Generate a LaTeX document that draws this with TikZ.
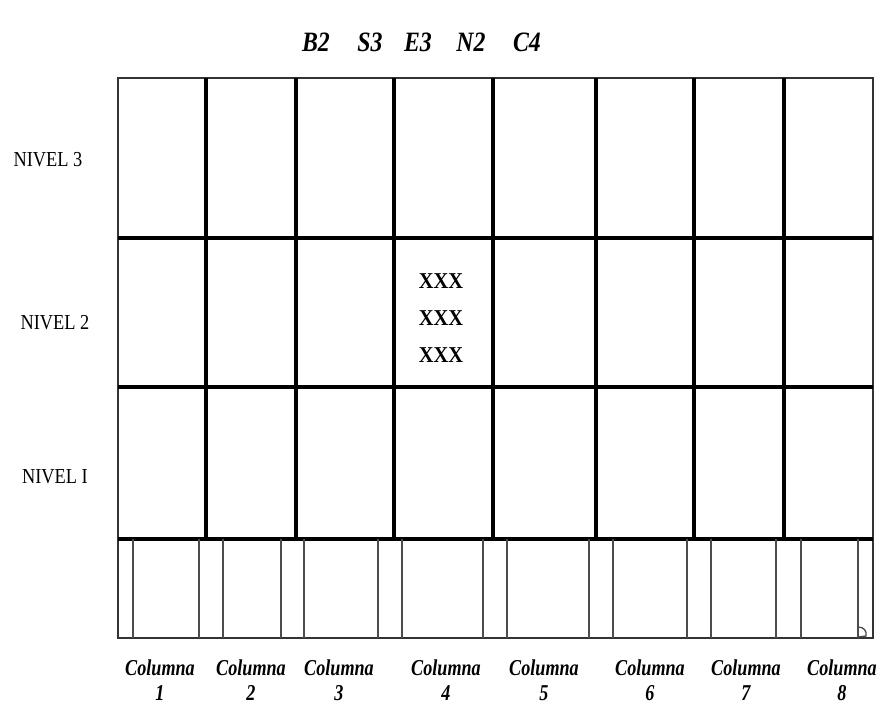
\documentclass[tikz,border=0pt]{standalone}
\usepackage{fontspec}
\setmainfont{Liberation Serif}
\begin{document}
\begin{tikzpicture}[x=0.75pt, y=-0.75pt,
  frameline/.style={line width=1.1pt, black!80},
  thickgrid/.style={line width=2.6pt, black},
  stripline/.style={line width=1pt, black!70},
  codelabel/.style={font=\fontsize{21}{24}\selectfont\bfseries\itshape, xscale=0.85},
  levellabel/.style={font=\fontsize{16}{19}\selectfont, xscale=0.86},
  collabel/.style={font=\fontsize{17}{19}\selectfont\bfseries\itshape, align=center, xscale=0.8, inner sep=0pt},
  cellmark/.style={font=\fontsize{17}{28}\selectfont\bfseries, align=center, inner sep=0pt, xscale=0.9}]
  \useasboundingbox (0,0) rectangle (883,706);

  % Code header
  \foreach \name/\x in {B2/316, S3/370, E3/418, N2/471, C4/527}
    \node [codelabel] (code\name) at (\x, 42) {\name};

  % Outer frame
  \draw [frameline] (118, 78) rectangle (873, 638);

  % Levels and columns
  \foreach \y in {238, 387, 539}
    \draw [thickgrid] (118, \y) -- (873, \y);
  \foreach \x in {206, 296, 394, 493, 596, 694, 784}
    \draw [thickgrid] (\x, 78) -- (\x, 539);

  % Base strip
  \foreach \x in {133, 199, 223, 281, 304, 378, 402, 483, 507, 589, 613, 687, 711, 776, 801, 858}
    \draw [stripline] (\x, 539) -- (\x, 638);
  \draw [stripline] (858, 627) .. controls (864, 627) and (867, 631) .. (866, 636) -- (858, 637);

  % Level labels
  \node [levellabel] (nivel3) at (48, 160) {NIVEL 3};
  \node [levellabel] (nivel2) at (55, 323) {NIVEL 2};
  \node [levellabel] (nivel1) at (55, 477) {NIVEL I};

  % Occupied cell
  \node [cellmark] (mark) at (441, 318) {XXX\\XXX\\XXX};

  % Column labels
  \foreach \i/\x in {1/160, 2/251, 3/339, 4/446, 5/544, 6/650, 7/746, 8/842}
    \node [collabel] (col\i) at (\x, 680) {Columna\\\i};
\end{tikzpicture}
\end{document}
